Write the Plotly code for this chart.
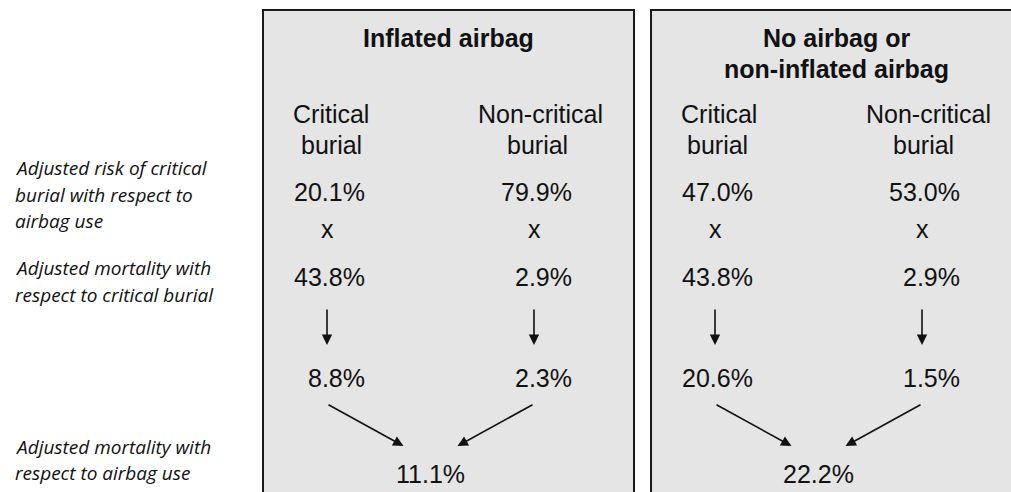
import plotly.graph_objects as go

# ---------------- data ----------------
panel_titles = [["Inflated airbag"], ["No airbag or", "non-inflated airbag"]]
burial_types = [["Critical", "burial"], ["Non-critical", "burial"]]
risk_burial_inflated = [20.1, 79.9]      # adjusted risk of critical / non-critical burial
risk_burial_none = [47.0, 53.0]
mortality_burial = [43.8, 2.9]           # adjusted mortality w.r.t. burial
product_inflated = [8.8, 2.3]
product_none = [20.6, 1.5]
total_mortality = [11.1, 22.2]           # inflated, none
row_labels = [
    ["Adjusted risk of critical", "burial with respect to", "airbag use"],
    ["Adjusted mortality with", "respect to critical burial"],
    ["Adjusted mortality with", "respect to airbag use"],
]

risks = [risk_burial_inflated, risk_burial_none]
products = [product_inflated, product_none]

# ---------------- layout constants ----------------
W, H = 1011, 492
PANEL_DX = 388
BOX_L, BOX_R, BOX_T = 263, 634, 10
COL_ARROW = [327, 534]        # arrow / "x" column centres (panel 0)
COL_HEAD = [331, 540]
NUM_RIGHT = [367, 574]
TITLE_Y = [38, 69]
HEAD_Y = [114, 145]
Y_RISK, Y_X, Y_MORT, Y_PROD, Y_TOT = 192, 229, 277, 378, 474
LABEL_Y = [[168, 195, 221], [268, 295], [447, 473]]

SANS = "Liberation Sans, Arial, sans-serif"
FS = 25
INK = "#111111"

fig = go.Figure()
shapes = []
ann = []

def txt(x, y, s, size=FS, xanchor="center", bold=False, family=SANS, italic=False):
    if bold:
        s = "<b>" + s + "</b>"
    if italic:
        s = "<i>" + s + "</i>"
    ann.append(dict(x=x, y=y, xref="x", yref="y", text=s, showarrow=False,
                    xanchor=xanchor, yanchor="middle",
                    font=dict(family=family, size=size, color=INK)))

def arrow(x0, y0, x1, y1):
    ann.append(dict(x=x1, y=y1, ax=x0, ay=y0, xref="x", yref="y",
                    axref="x", ayref="y", text="", showarrow=True,
                    arrowhead=2, arrowsize=1.3, arrowwidth=1.6,
                    arrowcolor=INK, standoff=0, startstandoff=0))

for p in range(2):
    dx = p * PANEL_DX
    shapes.append(dict(type="rect", xref="x", yref="y",
                       x0=BOX_L + dx, x1=BOX_R + dx, y0=BOX_T, y1=H + 20,
                       fillcolor="#e5e5e5", line=dict(color="#1a1a1a", width=2),
                       layer="below"))
    cx = (BOX_L + BOX_R) / 2 + dx
    for i, line in enumerate(panel_titles[p]):
        txt(cx, TITLE_Y[i], line, bold=True)
    for c in range(2):
        for i, line in enumerate(burial_types[c]):
            txt(COL_HEAD[c] + dx - (2 if (p == 1 and i == 1) else 0) - (c * 3 if i == 1 else 0),
                HEAD_Y[i], line)
        txt(NUM_RIGHT[c] + dx, Y_RISK, f"{risks[p][c]:.1f}%", xanchor="right")
        txt(COL_ARROW[c] + dx, Y_X, "x")
        txt(NUM_RIGHT[c] + dx, Y_MORT, f"{mortality_burial[c]:.1f}%", xanchor="right")
        arrow(COL_ARROW[c] + dx, 308, COL_ARROW[c] + dx, 345)
        txt(NUM_RIGHT[c] + dx, Y_PROD, f"{products[p][c]:.1f}%", xanchor="right")
    mid = (COL_ARROW[0] + COL_ARROW[1]) / 2 + dx
    arrow(COL_ARROW[0] + dx, 404, mid - 27, 446)
    arrow(COL_ARROW[1] + dx, 404, mid + 27, 446)
    txt(mid, Y_TOT, f"{total_mortality[p]:.1f}%")

for g, lines in enumerate(row_labels):
    for i, line in enumerate(lines):
        txt(13, LABEL_Y[g][i], line, size=19, xanchor="left",
            family="Open Sans, sans-serif", italic=True)

fig.update_layout(
    width=W, height=H, margin=dict(l=0, r=0, t=0, b=0),
    paper_bgcolor="white", plot_bgcolor="white",
    xaxis=dict(range=[0, W], visible=False, fixedrange=True),
    yaxis=dict(range=[H, 0], visible=False, fixedrange=True),
    shapes=shapes, annotations=ann, showlegend=False,
)
fig.write_html("out.html", config={"displayModeBar": False},
               post_script="document.body.style.margin='0';document.body.style.overflow='hidden';")
